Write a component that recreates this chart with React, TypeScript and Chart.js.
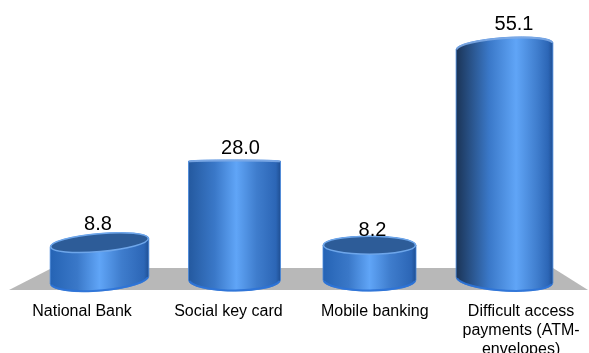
import React, { useEffect, useRef } from "react";
import { Chart, registerables } from "chart.js";

Chart.register(...registerables);

const categories = ["National Bank", "Social key card", "Mobile banking", "Difficult access payments (ATM-envelopes)"];
const tickLines = [["National Bank"], ["Social key card"], ["Mobile banking"], ["Difficult access", "payments (ATM-", "envelopes)"]];
const values = [8.8, 28.0, 8.2, 55.1];
const labelPositions = [0, 1, 2, 3];

// Per-cylinder perspective: the camera sits at mid height, so short drums show their lid.
const cylinderLooks = [
  { rx: 49.5, lidRy: 9, lidRot: -5, footRot: -4.5, footRy: 11, lid: true, lightAt: 0.5, edge: "#2563b4", labelDx: -1.5, labelUp: 18 },
  { rx: 46, lidRy: 1.2, lidRot: 0, footRot: 0, footRy: 11, lid: false, lightAt: 0.52, edge: "#24599f", labelDx: 6, labelUp: 13 },
  { rx: 46.5, lidRy: 9, lidRot: 0, footRot: 0, footRy: 11, lid: true, lightAt: 0.5, edge: "#2563b4", labelDx: 3, labelUp: 15 },
  { rx: 48.5, lidRy: 8.5, lidRot: -4, footRot: 3.5, footRy: 11, lid: false, lightAt: 0.62, edge: "#1b3456", labelDx: 9.5, labelUp: 22 },
];

const rad = (d: number) => (d * Math.PI) / 180;

const floorPlugin = {
  id: "floor",
  beforeDatasetsDraw(chart: any) {
    const { ctx, chartArea } = chart;
    const b = chartArea.bottom;
    ctx.save();
    ctx.beginPath();
    ctx.moveTo(9, b + 10);
    ctx.lineTo(52, b - 12);
    ctx.lineTo(553, b - 12);
    ctx.lineTo(588, b + 10);
    ctx.closePath();
    ctx.fillStyle = "#b8b8b8";
    ctx.fill();
    ctx.restore();
  },
};

const cylinderPlugin = {
  id: "cylinders",
  afterDatasetsDraw(chart: any) {
    const { ctx, chartArea } = chart;
    const bars = chart.getDatasetMeta(0).data;
    const footY = chartArea.bottom;
    bars.forEach((bar: any, i: number) => {
      const look = cylinderLooks[i];
      const cx = bar.x;
      const topY = bar.y;
      const left = cx - look.rx;
      const right = cx + look.rx;

      const body = ctx.createLinearGradient(left, 0, right, 0);
      body.addColorStop(0, look.edge);
      body.addColorStop(look.lightAt * 0.55, "#3a78c8");
      body.addColorStop(look.lightAt, "#60a5f7");
      body.addColorStop(Math.min(look.lightAt + 0.22, 0.9), "#3f7dcd");
      body.addColorStop(0.95, "#2c66b6");
      body.addColorStop(1, "#1f4f93");

      ctx.save();
      ctx.beginPath();
      ctx.ellipse(cx, topY, look.rx, look.lidRy, rad(look.lidRot), Math.PI, Math.PI * 2);
      ctx.ellipse(cx, footY, look.rx, look.footRy, rad(look.footRot), 0, Math.PI);
      ctx.closePath();
      ctx.fillStyle = body;
      ctx.fill();
      ctx.lineWidth = 1;
      ctx.strokeStyle = "rgba(70,135,220,0.8)";
      ctx.stroke();

      // Bright band along the foot of the drum.
      ctx.beginPath();
      ctx.ellipse(cx, footY - 0.5, look.rx - 0.5, look.footRy, rad(look.footRot), 0.15, Math.PI - 0.15);
      ctx.lineWidth = 2;
      ctx.strokeStyle = "rgba(45,115,215,0.9)";
      ctx.stroke();

      if (look.lid) {
        ctx.beginPath();
        ctx.ellipse(cx, topY, look.rx - 0.5, look.lidRy, rad(look.lidRot), 0, Math.PI * 2);
        ctx.fillStyle = "#2d5c98";
        ctx.fill();
        ctx.lineWidth = 1.5;
        ctx.strokeStyle = "#6ea6ea";
        ctx.stroke();
      } else {
        // Seen from below, only the pale rim of the lid shows.
        ctx.beginPath();
        ctx.ellipse(cx, topY + 0.5, look.rx - 0.5, look.lidRy, rad(look.lidRot), Math.PI + 0.05, Math.PI * 2 - 0.05);
        ctx.lineWidth = 2;
        ctx.strokeStyle = "rgba(125,170,230,0.9)";
        ctx.stroke();
      }

      // Value above the drum.
      ctx.fillStyle = "#000000";
      ctx.font = "20px 'Liberation Sans'";
      ctx.textAlign = "center";
      ctx.textBaseline = "middle";
      ctx.fillText(values[i].toFixed(1), cx + look.labelDx, topY - look.labelUp);
      ctx.restore();
    });
  },
};

export default function App() {
  const canvasRef = useRef<HTMLCanvasElement>(null);

  useEffect(() => {
    const chart = new Chart(canvasRef.current!, {
      type: "bar",
      data: {
        labels: categories,
        datasets: [
          {
            data: values,
            backgroundColor: "transparent",
            borderWidth: 0,
            categoryPercentage: 1,
            barPercentage: 0.71,
          },
        ],
      },
      plugins: [floorPlugin, cylinderPlugin],
      options: {
        responsive: false,
        animation: false,
        layout: { padding: { left: 32, right: 17, top: 4, bottom: 0 } },
        plugins: { legend: { display: false }, tooltip: { enabled: false } },
        scales: {
          x: { display: false },
          y: { display: false, min: 0, max: 65 },
          labelAxis: {
            type: "linear",
            position: "bottom",
            bounds: "data",
            offset: false,
            min: -0.342,
            max: 3.348,
            grid: { display: false },
            border: { display: false },
            afterBuildTicks: (scale: any) => {
              scale.ticks = labelPositions.map((value) => ({ value }));
            },
            afterFit: (scale: any) => {
              scale.height = 73;
              scale.paddingLeft = 0;
              scale.paddingRight = 0;
            },
            ticks: {
              autoSkip: false,
              maxRotation: 0,
              minRotation: 0,
              padding: 14,
              color: "#000000",
              font: { family: "'Liberation Sans'", size: 16, lineHeight: 1.2 },
              callback: (v: any) => tickLines[v as number] as any,
            },
          },
        },
      },
    } as any);
    return () => chart.destroy();
  }, []);

  return (
    <div style={{ position: "absolute", left: 0, top: 0, width: 589, height: 353, overflow: "hidden", background: "#fff" }}>
      <canvas ref={canvasRef} width={589} height={353} style={{ display: "block" }} />
    </div>
  );
}
